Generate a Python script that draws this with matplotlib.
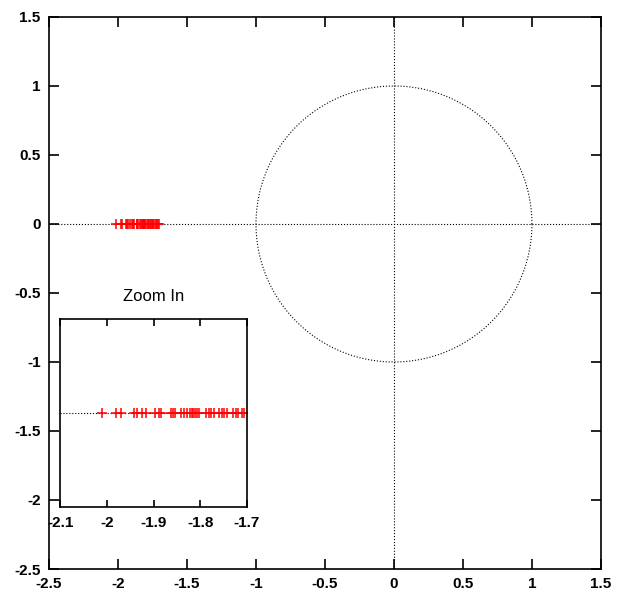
import numpy as np
import matplotlib
matplotlib.use('Agg')
import matplotlib.pyplot as plt

plt.rcParams['font.family'] = ['Liberation Sans', 'DejaVu Sans']

# posizioni dei punti (parte reale), tutti sull'asse y=0
pts_x = [-2.011, -1.981, -1.971, -1.942, -1.935, -1.925, -1.916, -1.897, -1.889,
         -1.884, -1.863, -1.859, -1.854, -1.841, -1.834, -1.828, -1.822, -1.817,
         -1.815, -1.811, -1.807, -1.802, -1.787, -1.781, -1.777, -1.771, -1.759,
         -1.754, -1.749, -1.743, -1.729, -1.723, -1.719, -1.710, -1.705]
pts_y = [0.0] * len(pts_x)

main_xticks = [-2.5, -2, -1.5, -1, -0.5, 0, 0.5, 1, 1.5]
main_yticks = [-2.5, -2, -1.5, -1, -0.5, 0, 0.5, 1, 1.5]
zoom_xticks = [-2.1, -2, -1.9, -1.8, -1.7]

def fmt(v):
    return ('%g' % v)

fig = plt.figure(figsize=(6.17, 5.96), dpi=100)
ax = fig.add_axes([0.0794, 0.0453, 0.8946, 0.9262])

# cerchio unitario e assi tratteggiati
t = np.linspace(0, 2 * np.pi, 400)
ax.plot(np.cos(t), np.sin(t), color='black', linestyle=':', linewidth=0.8)
ax.plot([-2.5, 1.5], [0, 0], color='black', linestyle=':', linewidth=0.8)
ax.plot([0, 0], [-2.5, 1.5], color='black', linestyle=':', linewidth=0.8)
ax.plot(pts_x, pts_y, linestyle='none', marker='+', color='red', markersize=6.5, mew=1.1)

ax.set_xlim(-2.5, 1.5)
ax.set_ylim(-2.5, 1.5)
ax.set_xticks(main_xticks)
ax.set_yticks(main_yticks)
ax.set_xticklabels([fmt(v) for v in main_xticks], fontweight='bold')
ax.set_yticklabels([fmt(v) for v in main_yticks], fontweight='bold')
ax.tick_params(direction='in', length=7, width=1.2, top=True, right=True, labelsize=11, pad=6)
for s in ax.spines.values():
    s.set_linewidth(1.2)

# riquadro zoom
axi = fig.add_axes([0.098, 0.149, 0.302, 0.315])
axi.plot([-2.1, -1.7], [0, 0], color='black', linestyle=':', linewidth=0.8)
axi.plot(pts_x, pts_y, linestyle='none', marker='+', color='red', markersize=6.5, mew=1.1)
axi.set_xlim(-2.1, -1.7)
axi.set_ylim(-1, 1)
axi.set_xticks(zoom_xticks)
axi.set_xticklabels([fmt(v) for v in zoom_xticks], fontweight='bold')
axi.set_yticks([])
axi.tick_params(direction='in', length=5, width=1.2, top=True, labelsize=11, pad=6)
for s in axi.spines.values():
    s.set_linewidth(1.2)
axi.set_title('Zoom In', fontsize=12, pad=13)

fig.savefig('out.png', dpi=100)
